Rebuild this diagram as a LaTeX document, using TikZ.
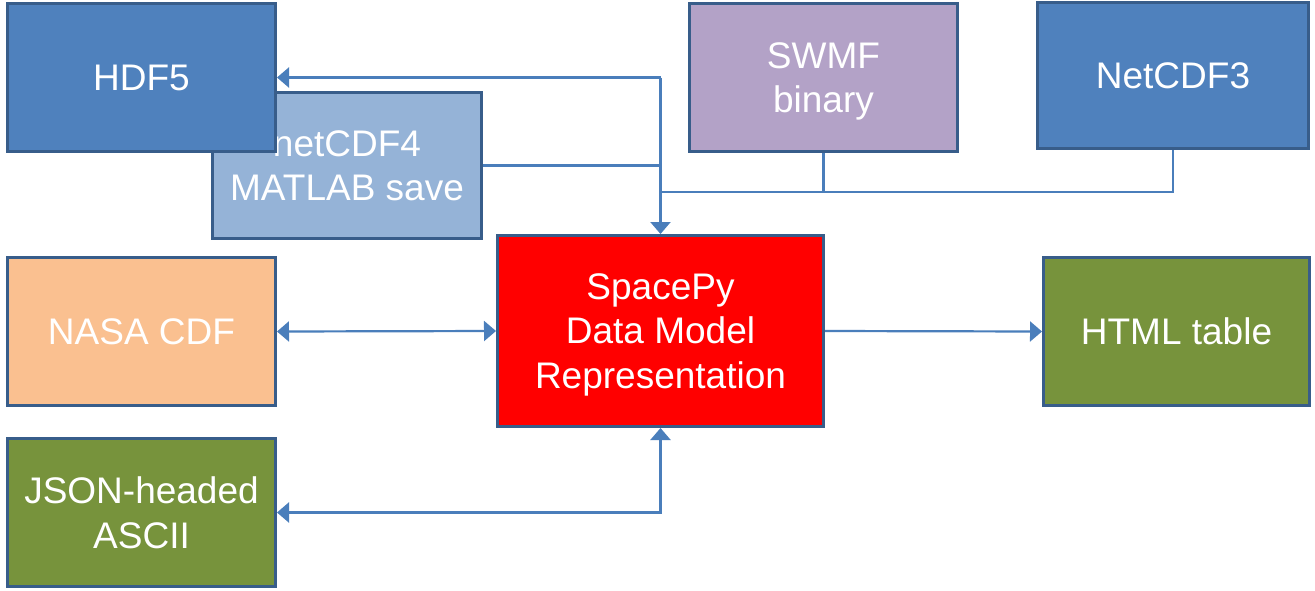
\documentclass[tikz,border=0pt]{standalone}
\usepackage{fontspec}
\setmainfont{Liberation Sans}
\usetikzlibrary{arrows.meta}
\definecolor{bordc}{HTML}{385D8A}
\definecolor{linec}{HTML}{4A7EBB}
\definecolor{hdfc}{HTML}{4F81BD}
\definecolor{ncfc}{HTML}{95B3D7}
\definecolor{swmfc}{HTML}{B3A2C7}
\definecolor{nasac}{HTML}{FAC090}
\definecolor{greenc}{HTML}{77933C}
\begin{document}
\begin{tikzpicture}[x=1pt,y=-1pt,
  box/.style={draw=bordc,line width=3pt,inner sep=0pt,text=white,align=center,
    font=\fontsize{37}{44.5}\selectfont,minimum width=268pt,minimum height=148pt},
  conn/.style={draw=linec,line width=2.2pt},
  tip/.style={-{Triangle[length=12pt,width=20pt]}},
  tips/.style={{Triangle[length=12pt,width=20pt]}-{Triangle[length=12pt,width=20pt]}}]
\path[fill=white,use as bounding box] (0,0) rectangle (1315,590);
\node[box,fill=ncfc,minimum width=269pt,minimum height=146pt,text depth=-3pt] (ncdf4) at (347,165.5) {netCDF4\\MATLAB save};
\node[box,fill=hdfc] (hdf5) at (141.5,77.5) {HDF5};
\node[box,fill=swmfc,text depth=0pt] (swmf) at (823.5,77.5) {SWMF\\binary};
\node[box,fill=hdfc,minimum width=271pt,minimum height=146pt] (ncdf3) at (1173,75.5) {NetCDF3};
\node[box,fill=nasac] (nasa) at (141.5,331.5) {NASA CDF};
\node[box,fill=red,minimum width=326pt,minimum height=191pt,text depth=0pt] (spy) at (660.5,331) {SpacePy\\Data Model\\Representation};
\node[box,fill=greenc,minimum width=266pt] (html) at (1176.5,331.5) {HTML table};
\node[box,fill=greenc,text depth=-4pt] (json) at (141.5,512.5) {JSON-headed\\ASCII};
\coordinate (top) at (spy.north |- hdf5.east);
\coordinate (bus) at (660.5,192);
\draw[conn,tip] (top) -- (hdf5.east);
\draw[conn,tip] (top) -- (spy.north);
\draw[conn] (ncdf4.east) -- (spy.north |- ncdf4.east);
\draw[conn] (swmf.south) |- (bus);
\draw[conn] (ncdf3.south) |- (bus);
\draw[conn,tips] (nasa.east) -- (spy.west);
\draw[conn,tip] (spy.east) -- (html.west);
\draw[conn,tips] (spy.south) |- (json.east);
\end{tikzpicture}
\end{document}
